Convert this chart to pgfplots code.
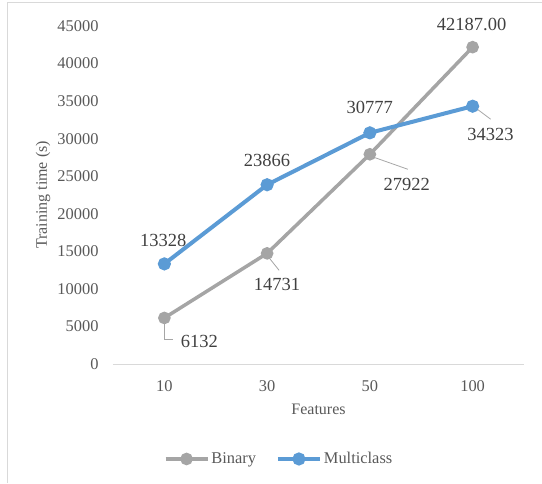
\documentclass[border=0pt]{standalone}
\usepackage{fontspec}
\setmainfont{Liberation Serif}
\usepackage{pgfplots}
\pgfplotsset{compat=1.18}
\definecolor{binary}{HTML}{A5A5A5}
\definecolor{multi}{HTML}{5B9BD5}
\definecolor{txt}{HTML}{595959}
\definecolor{lbltxt}{HTML}{404040}
\definecolor{frame}{HTML}{D9D9D9}
\definecolor{leader}{HTML}{A6A6A6}

\begin{document}
\begin{tikzpicture}[x=1pt,y=1pt,
  lbl/.style={font=\fontsize{18.5}{21}\selectfont, text=lbltxt, inner sep=0pt},
  ldr/.style={draw=leader, line width=0.8pt}]
\path[use as bounding box] (0,0) rectangle (542,483);
\draw[frame, line width=1pt] (7,0) -- (7,480) -- (542,480);
\begin{axis}[
  at={(113pt,119pt)}, anchor=south west,
  scale only axis, width=411pt, height=338pt,
  xmin=-0.5, xmax=3.5, ymin=0, ymax=45000,
  xtick={0,1,2,3}, xticklabels={10,30,50,100},
  ytick={0,5000,...,45000},
  scaled y ticks=false,
  /pgf/number format/.cd, 1000 sep={}, assume math mode=true, /pgfplots/.cd,
  axis x line*=bottom, axis y line*=left,
  x axis line style={draw=frame, line width=1pt, -},
  y axis line style={draw=none},
  major tick length=0pt,
  tick label style={font=\fontsize{16.4}{19}\selectfont, text=txt},
  yticklabel style={anchor=east, xshift=-11pt},
  xticklabel style={anchor=north, yshift=-13pt},
  xlabel={Features}, ylabel={Training time (s)},
  label style={font=\fontsize{16}{19}\selectfont, text=txt},
  xlabel style={at={(0.5,0)}, anchor=center, yshift=-45pt},
  ylabel style={at={(0,0.5)}, anchor=center, yshift=70pt},
  legend style={at={(0.404,-0.281)}, anchor=center, draw=none, fill=none,
    legend columns=2, font=\fontsize{16.4}{19}\selectfont, text=txt,
    /tikz/every even column/.append style={column sep=18pt},
    legend cell align=left, inner sep=0pt},
  legend image code/.code={\draw[#1, mark repeat=2, mark phase=2]
    plot coordinates {(0pt,0pt)(21pt,0pt)(42pt,0pt)};},
  clip=false,
]
\addplot[binary, line width=3.5pt, mark=*, mark size=4.5pt,
  mark options={solid, fill=binary, draw=none}]
  coordinates {(0,6132) (1,14731) (2,27922) (3,42187)};
\addlegendentry{Binary}
\addplot[multi, line width=4pt, mark=*, mark size=4.5pt,
  mark options={solid, fill=multi, draw=none}]
  coordinates {(0,13328) (1,23866) (2,30777) (3,34323)};
\addlegendentry{Multiclass}

% leader lines for the labels set away from their points
\draw[ldr] ([shift={(0pt,-5pt)}]axis cs:0,6132) -- ([shift={(0pt,-21pt)}]axis cs:0,6132) -- ([shift={(9pt,-21pt)}]axis cs:0,6132);
\draw[ldr] ([shift={(0pt,-2pt)}]axis cs:1,14731) -- ([shift={(12pt,-17pt)}]axis cs:1,14731);
\draw[ldr] ([shift={(4pt,-3pt)}]axis cs:2,27922) -- ([shift={(38pt,-15pt)}]axis cs:2,27922);
\draw[ldr] ([shift={(2pt,-1pt)}]axis cs:3,34323) -- ([shift={(18pt,-13pt)}]axis cs:3,34323);

% value labels
\node[lbl, shift={(35pt,-24pt)}] at (axis cs:0,6132) {6132};
\node[lbl, shift={(10pt,-31pt)}] at (axis cs:1,14731) {14731};
\node[lbl, shift={(37pt,-30pt)}] at (axis cs:2,27922) {27922};
\node[lbl, shift={(-1pt,23pt)}] at (axis cs:3,42187) {42187.00};
\node[lbl, shift={(-1pt,23pt)}] at (axis cs:0,13328) {13328};
\node[lbl, shift={(0pt,24pt)}] at (axis cs:1,23866) {23866};
\node[lbl, shift={(0pt,25pt)}] at (axis cs:2,30777) {30777};
\node[lbl, shift={(18pt,-28pt)}] at (axis cs:3,34323) {34323};
\end{axis}
\end{tikzpicture}
\end{document}
